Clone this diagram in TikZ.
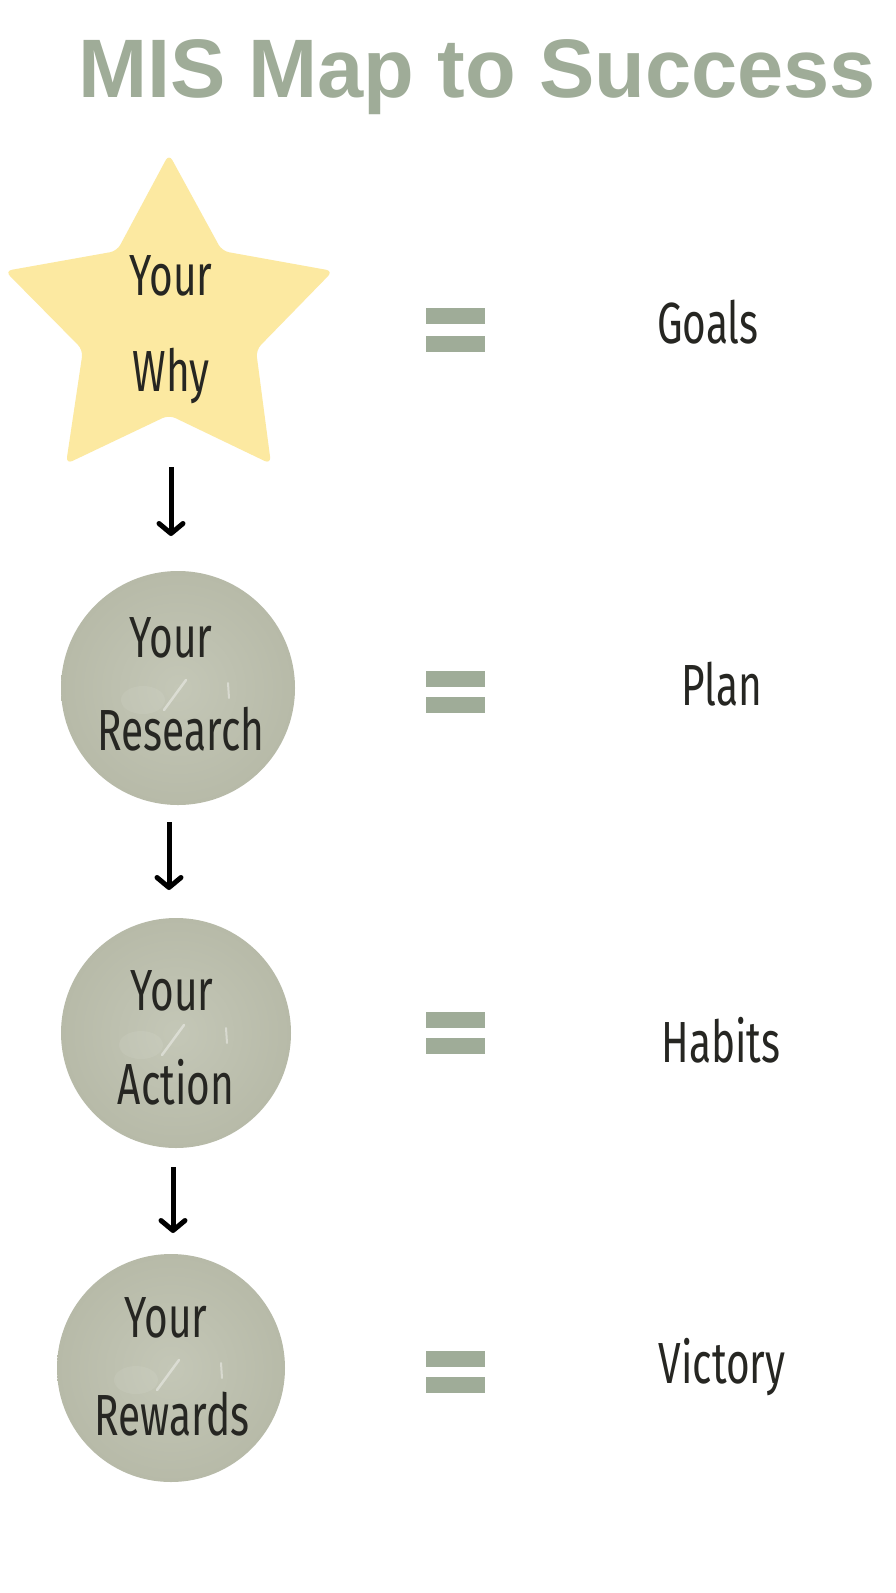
\documentclass[tikz,border=0pt]{standalone}
\usepackage{fontspec}
\usepackage{graphicx}
\usetikzlibrary{arrows.meta,calc}
\newfontfamily\titlefont{Liberation Sans}
\newfontfamily\handfont{Fira Sans}
\definecolor{sage}{HTML}{9FAC98}
\definecolor{staryellow}{HTML}{FCE9A1}
\definecolor{blobin}{HTML}{C4C7B7}
\definecolor{blobout}{HTML}{B7BAA8}
\definecolor{ink}{HTML}{262622}
\newcommand\hw[1]{\scalebox{0.7}[1]{#1}}
\tikzset{
  hand/.style={anchor=base, inner sep=0pt, text=ink, font=\handfont\fontsize{58}{58}\selectfont},
  blob/.style={circle, minimum size=#1, inner sep=0pt, inner color=blobin, outer color=blobout},
  eqbar/.style={fill=sage},
  arr/.style={line width=5pt, -{Straight Barb[length=10pt,width=24pt,line width=5pt,round]}},
  shine/.style={white, opacity=0.4, line cap=round}
}
\begin{document}
\begin{tikzpicture}[x=1pt,y=-1pt]
\useasboundingbox[fill=white] (0,0) rectangle (896,1593);
\node[anchor=base, inner sep=0pt, text=sage, font=\titlefont\bfseries\fontsize{83}{83}\selectfont] (title) at (477,97) {MIS Map to Success};
% star
\fill[staryellow, rounded corners=7pt] (169,154) -- (222,251) -- (333,271) -- (256,350) -- (271,464) -- (169,415) -- (66,464) -- (83,350) -- (5,271) -- (117,251) -- cycle;
\node[hand] (whyA) at (171,295) {\hw{Your}};
\node[hand] (whyB) at (171,391) {\hw{Why}};
% blobs
\node[blob=234pt] (research) at (178,688) {};
\node[blob=230pt] (action) at (176,1033) {};
\node[blob=228pt] (rewards) at (171,1368) {};
\foreach \n in {research,action,rewards}{
  \draw[shine, line width=2.5pt] ($(\n)+(8,-8)$) -- ($(\n)+(-14,22)$);
  \draw[shine, line width=2pt] ($(\n)+(50,-5)$) -- ($(\n)+(51,10)$);
  \fill[white, opacity=0.07] ($(\n)+(-35,12)$) ellipse (22pt and 14pt);
}
\node[hand] (researchA) at (171,657) {\hw{Your}};
\node[hand] (researchB) at (181,750) {\hw{Research}};
\node[hand] (actionA) at (172,1010) {\hw{Your}};
\node[hand] (actionB) at (176,1104) {\hw{Action}};
\node[hand] (rewardsA) at (166,1337) {\hw{Your}};
\node[hand] (rewardsB) at (172,1435) {\hw{Rewards}};
% right labels
\node[hand] (goals) at (708,343) {\hw{Goals}};
\node[hand] (plan) at (722,705) {\hw{Plan}};
\node[hand] (habits) at (721,1062) {\hw{Habits}};
\node[hand] (victory) at (722,1383) {\hw{Victory}};
% equals signs
\foreach \a/\b in {308/336,671/697,1012/1038,1351/1377}{
  \fill[eqbar] (426,\a) rectangle (485,\a+15.5);
  \fill[eqbar] (426,\b) rectangle (485,\b+15.5);
}
% arrows
\coordinate (a1s) at (171,467); \coordinate (a1e) at (171,536);
\coordinate (a2s) at (169,822); \coordinate (a2e) at (169,890);
\coordinate (a3s) at (173,1167); \coordinate (a3e) at (173,1233);
\draw[arr] (a1s) -- (a1e);
\draw[arr] (a2s) -- (a2e);
\draw[arr] (a3s) -- (a3e);
\end{tikzpicture}
\end{document}
